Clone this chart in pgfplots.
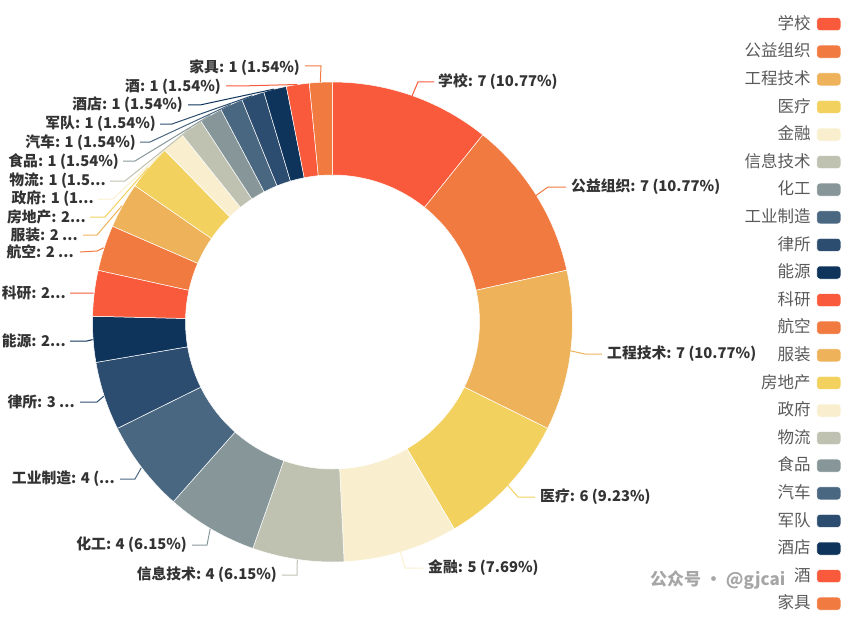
\documentclass[border=0pt]{standalone}
\usepackage{pgfplots}
\pgfplotsset{compat=1.18}
\usepackage{fontspec}
\setmainfont{Noto Sans CJK SC}
\definecolor{c1}{HTML}{F85A3B}
\definecolor{c2}{HTML}{F17A40}
\definecolor{c3}{HTML}{EEB35A}
\definecolor{c4}{HTML}{F2D15F}
\definecolor{c5}{HTML}{F9EFCF}
\definecolor{c6}{HTML}{BFC2B1}
\definecolor{c7}{HTML}{879799}
\definecolor{c8}{HTML}{4A6781}
\definecolor{c9}{HTML}{2C4D6F}
\definecolor{c10}{HTML}{0F345B}
\definecolor{lbl}{HTML}{333333}
\definecolor{leg}{HTML}{5A5A5A}
\newcommand{\lblf}{\fontsize{14.8bp}{17bp}\selectfont\bfseries}
\newcommand{\legf}{\fontsize{16.5bp}{18bp}\selectfont}
% slice: start (units of 1/65), count, colour, name
\newcommand{\slice}[4]{%
  \addplot[fill=#3, draw=white, line width=0.5bp, samples at={0,1,...,24,100,101,...,124}, variable=\t]
   ({332.5+ifthenelse(\t<50,240,147)*cos(90-360/65*ifthenelse(\t<50,#1+#2*\t/24,#1+#2-#2*(\t-100)/24))},
    {322-ifthenelse(\t<50,240,147)*sin(90-360/65*ifthenelse(\t<50,#1+#2*\t/24,#1+#2-#2*(\t-100)/24))}) -- cycle;
  \addlegendentry{#4}
}
\newcommand{\lline}[2]{\addplot[#1, line width=1bp, mark=none, forget plot] coordinates {#2};}
\begin{document}
\begin{tikzpicture}
\begin{axis}[
  scale only axis, width=845bp, height=617bp,
  xmin=0, xmax=845, ymin=0, ymax=617, y dir=reverse,
  hide axis, clip=false,
  legend cell align=right, legend plot pos=right,
  legend image code/.code={\fill[rounded corners=3bp] (0bp,-6.5bp) rectangle (24bp,6.5bp);},
  legend style={at={(axis cs:841,16.3)}, anchor=north east, draw=none, fill=none,
    inner sep=0pt, outer sep=0pt, row sep=12bp, font=\legf, text=leg,
    nodes={inner sep=0pt, text height=13bp, text depth=2.6bp},
    /tikz/every odd column/.append style={column sep=6bp}},
]
% values: 7,7,7,6,5,4,4,4,3,2,2,2,2,2,1,1,1,1,1,1,1,1 (total 65)
\slice{0}{7}{c1}{学校}
\slice{7}{7}{c2}{公益组织}
\slice{14}{7}{c3}{工程技术}
\slice{21}{6}{c4}{医疗}
\slice{27}{5}{c5}{金融}
\slice{32}{4}{c6}{信息技术}
\slice{36}{4}{c7}{化工}
\slice{40}{4}{c8}{工业制造}
\slice{44}{3}{c9}{律所}
\slice{47}{2}{c10}{能源}
\slice{49}{2}{c1}{科研}
\slice{51}{2}{c2}{航空}
\slice{53}{2}{c3}{服装}
\slice{55}{2}{c4}{房地产}
\slice{57}{1}{c5}{政府}
\slice{58}{1}{c6}{物流}
\slice{59}{1}{c7}{食品}
\slice{60}{1}{c8}{汽车}
\slice{61}{1}{c9}{军队}
\slice{62}{1}{c10}{酒店}
\slice{63}{1}{c1}{酒}
\slice{64}{1}{c2}{家具}
% leader lines
\lline{c1}{(412,96)(418,82)(434,82)}
\lline{c2}{(536,195.5)(548,187)(566,187)}
\lline{c3}{(570.3,350.8)(585,354)(602,354)}
\lline{c4}{(507.8,485.4)(518,497)(535,497)}
\lline{c5}{(400.6,552)(405,568)(423,568)}
\lline{c6}{(297.3,559.5)(297,575)(282,575)}
\lline{c7}{(210.2,528.8)(207,545)(192,545)}
\lline{c8}{(141.3,467.8)(135,479)(120,479)}
\lline{c9}{(103.8,396.2)(97,402)(80,402)}
\lline{c10}{(92.6,339.6)(87,341)(70,341)}
\lline{c1}{(93.7,293.2)(88,293)(70,293)}
\lline{c2}{(103.8,247.8)(97,251)(80,252)}
\lline{c3}{(122.1,205.6)(97,235)(83,235)}
\lline{c4}{(148.2,167.7)(105,217)(90,217)}
\lline{c5}{(173,142.2)(113,199)(98,199)}
\lline{c6}{(191,127.8)(125,181)(110,181)}
\lline{c7}{(210.2,115.2)(135,161)(123,161)}
\lline{c8}{(230.6,104.5)(150,142)(140,142)}
\lline{c9}{(252.3,95.7)(172,124)(160,124)}
\lline{c10}{(274,89.1)(200,105)(188,105)}
\lline{c1}{(297.3,84.5)(240,86)(226,86)}
\lline{c2}{(320.3,82.3)(321,66)(305,66)}
% labels
\begin{scope}[every node/.style={font=\lblf, text=lbl, inner sep=0pt}]
\node[anchor=west] at (axis cs:438,82) {学校: 7 (10.77\%)};
\node[anchor=west] at (axis cs:571,187) {公益组织: 7 (10.77\%)};
\node[anchor=west] at (axis cs:607,354) {工程技术: 7 (10.77\%)};
\node[anchor=west] at (axis cs:540,497) {医疗: 6 (9.23\%)};
\node[anchor=west] at (axis cs:428,568) {金融: 5 (7.69\%)};
\node[anchor=east] at (axis cs:277,575) {信息技术: 4 (6.15\%)};
\node[anchor=east] at (axis cs:187,545) {化工: 4 (6.15\%)};
\node[anchor=east] at (axis cs:115,479) {工业制造: 4 (...};
\node[anchor=east] at (axis cs:75,402) {律所: 3 ...};
\node[anchor=east] at (axis cs:66,341) {能源: 2...};
\node[anchor=east] at (axis cs:66,293) {科研: 2...};
\node[anchor=east] at (axis cs:74,252) {航空: 2 ...};
\node[anchor=east] at (axis cs:78,235) {服装: 2 ...};
\node[anchor=east] at (axis cs:86,217) {房地产: 2...};
\node[anchor=east] at (axis cs:94,199) {政府: 1 (1...};
\node[anchor=east] at (axis cs:106,181) {物流: 1 (1.5...};
\node[anchor=east] at (axis cs:119,162) {食品: 1 (1.54\%)};
\node[anchor=east] at (axis cs:136,143) {汽车: 1 (1.54\%)};
\node[anchor=east] at (axis cs:156,124) {军队: 1 (1.54\%)};
\node[anchor=east] at (axis cs:183,105) {酒店: 1 (1.54\%)};
\node[anchor=east] at (axis cs:221,87) {酒: 1 (1.54\%)};
\node[anchor=east] at (axis cs:300,68) {家具: 1 (1.54\%)};
\end{scope}
\node[anchor=west, text=black!35, font=\fontsize{17bp}{18bp}\selectfont\bfseries, inner sep=0pt] at (axis cs:650,580) {公众号 · @gjcai};
\end{axis}
\pgfresetboundingbox
\path (current axis.south west) rectangle (current axis.north east);
\end{tikzpicture}
\end{document}
